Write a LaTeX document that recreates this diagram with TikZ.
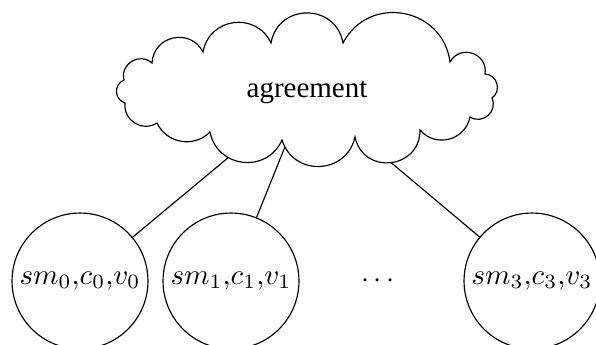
\documentclass[tikz,border=0pt]{standalone}
\usepackage[no-math]{fontspec}
\setmainfont{Liberation Serif}
\usetikzlibrary{intersections}
\begin{document}
\begin{tikzpicture}[x=0.345pt,y=-0.345pt,
  agent/.style={circle,draw,inner sep=0pt,minimum size=46.9pt,font=\fontsize{10}{12}\selectfont},
  label/.style={inner sep=1pt,font=\fontsize{10}{12}\selectfont},
  puff/.style 2 args={bend left=#1,looseness=#2}]
\useasboundingbox (0,0) rectangle (596,344);
\clip (0,0) rectangle (596,344);
% cloud outline
\draw[name path=cloudp]
  (152,63) to[puff={75}{1.354}] (203,52)
           to[puff={72.5}{1.309}] (271,43)
           to[puff={80}{1.45}] (343,43)
           to[puff={72.5}{1.309}] (450,62)
           to[puff={80}{1.45}] (485,74)
           to[puff={70}{1.269}] (492,98)
           to[puff={72.5}{1.309}] (470,117)
           to[puff={64}{1.184}] (420,130)
           to[puff={84}{1.542}] (355,137)
           to[puff={75}{1.354}] (282,140)
           to[puff={72.5}{1.309}] (210,132)
           to[puff={55}{1.082}] (157,123)
           to[puff={64}{1.184}] (125,103)
           to[puff={70}{1.269}] (124,80)
           to[puff={72.5}{1.309}] cycle;
\node[label] (ag) at (307,92) {agreement};
\node[agent] (s0) at (80,281) {$sm_0{,}c_0{,}v_0$};
\node[agent] (s1) at (231,281) {$sm_1{,}c_1{,}v_1$};
\node[label] (dots) at (378,281) {$\cdots$};
\node[agent] (s3) at (532,281) {$sm_3{,}c_3{,}v_3$};
\path[name path=l0] (ag.center) -- (s0.center);
\path[name path=l1] (ag.center) -- (s1.center);
\path[name path=l3] (ag.center) -- (s3.center);
\path[name intersections={of=cloudp and l0,by=b0,sort by=l0}];
\path[name intersections={of=cloudp and l1,by=b1,sort by=l1}];
\path[name intersections={of=cloudp and l3,by=b3,sort by=l3}];
\draw (b0) -- (s0);
\draw (b1) -- (s1);
\draw (b3) -- (s3);
\end{tikzpicture}
\end{document}
